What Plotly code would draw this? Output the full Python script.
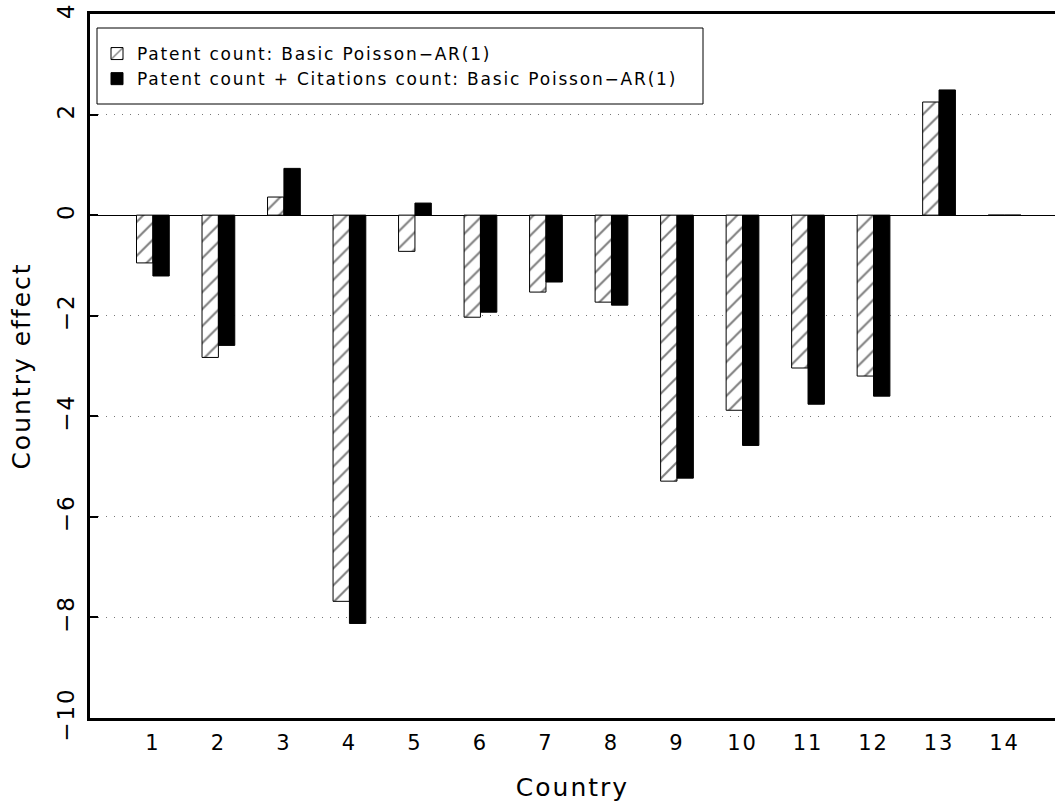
import plotly.graph_objects as go

countries = list(range(1, 15))
tick_labels = [str(c) for c in countries]
patent_only = [-0.95, -2.83, 0.36, -7.68, -0.72, -2.03, -1.53, -1.73, -5.29, -3.88, -3.04, -3.20, 2.25, 0.0]
patent_citations = [-1.21, -2.59, 0.93, -8.12, 0.24, -1.93, -1.33, -1.79, -5.23, -4.58, -3.76, -3.60, 2.49, 0.0]

names = ["Patent count: Basic Poisson\u2212AR(1)",
         "Patent count + Citations count: Basic Poisson\u2212AR(1)"]

FONT = "DejaVu Sans, sans-serif"

fig = go.Figure()
fig.add_trace(go.Bar(
    x=countries, y=patent_only, name=names[0], legendgroup="a",
    marker=dict(color="white", line=dict(color="black", width=1),
                pattern=dict(shape="/", fgcolor="black", bgcolor="white", size=12, solidity=0.17)),
))
fig.add_trace(go.Bar(
    x=countries, y=patent_citations, name=names[1], legendgroup="b",
    marker=dict(color="black", line=dict(color="black", width=1)),
))

# legend frame (paper coordinates)
fig.add_shape(type="rect", xref="paper", yref="paper",
              x0=(97 - 90) / 965, x1=(703 - 90) / 965,
              y0=1 - (104 - 14) / 704, y1=1 - (28 - 14) / 704,
              line=dict(color="black", width=1), fillcolor="rgba(0,0,0,0)", layer="above")

fig.update_layout(
    width=1055, height=804,
    margin=dict(l=90, r=0, t=14, b=86),
    paper_bgcolor="white", plot_bgcolor="white",
    barmode="group", bargap=0.5, bargroupgap=0,
    font=dict(family=FONT, color="black", size=20),
    showlegend=True,
    legend=dict(x=7 / 965, y=1 - (36 - 14) / 704, xanchor="left", yanchor="top",
                borderwidth=0, bgcolor="rgba(0,0,0,0)",
                font=dict(size=17, family=FONT),
                traceorder="grouped", tracegroupgap=0),
    xaxis=dict(
        range=[0.04, 14.77], tickmode="array", tickvals=countries, ticktext=tick_labels,
        showline=True, linecolor="black", linewidth=3, mirror=True,
        ticks="", showgrid=False, zeroline=False, automargin=False,
        tickfont=dict(size=21), ticklabelstandoff=4,
        title=dict(text="Country", font=dict(size=25), standoff=25),
    ),
    yaxis=dict(
        range=[-10, 4], tickvals=[-10, -8, -6, -4, -2, 0, 2, 4],
        showline=True, linecolor="black", linewidth=3, automargin=False,
        ticks="inside", ticklen=8, tickwidth=1.5, tickcolor="black",
        tickangle=-90, tickfont=dict(size=23), ticklabelstandoff=4,
        showgrid=True, gridcolor="#777777", griddash="1px,7px", gridwidth=1,
        zeroline=True, zerolinecolor="black", zerolinewidth=1.2,
        title=dict(text="Country effect", font=dict(size=25), standoff=16),
    ),
)

post = """
document.body.style.margin='0';
document.body.style.overflow='hidden';
document.querySelectorAll('.xtitle, .ytitle, .xtick text, .ytick text').forEach(function(t){
  t.style.letterSpacing='2px';
});
document.querySelectorAll('.legendtext').forEach(function(t){
  t.style.letterSpacing='1.8px';
});
document.querySelectorAll('.legend, .legend .scrollbox').forEach(function(g){
  g.removeAttribute('clip-path');
});
"""

fig.write_html("out.html", post_script=post, config={"displayModeBar": False})
